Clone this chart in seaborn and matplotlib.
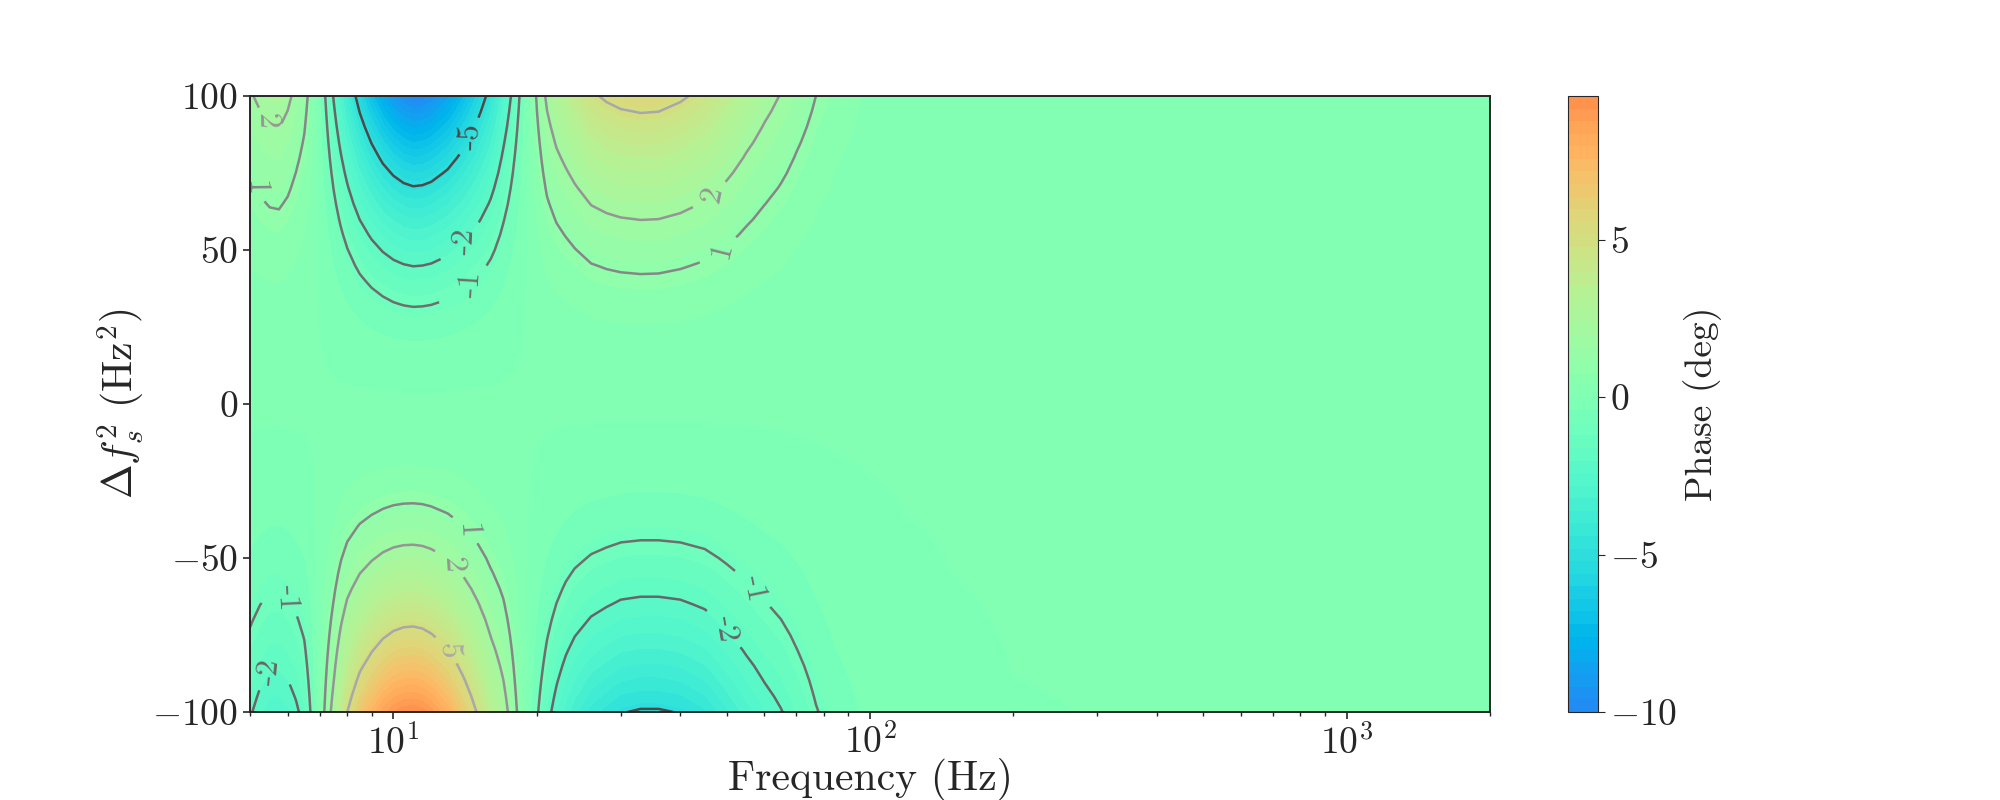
import numpy as np
import matplotlib
matplotlib.use("Agg")
import matplotlib.pyplot as plt
import seaborn as sns

# ---- data ----
# frequencies (Hz) at which the phase profile was read
freq_hz = [5.0, 5.25, 5.5, 5.75, 6.0, 6.25, 6.5, 6.75, 7.0, 7.25, 7.5, 7.75, 8.0,
           8.5, 9.0, 9.5, 10.0, 10.5, 11.0, 11.5, 12.0, 13.0, 14.0, 15.0, 16.0,
           17.0, 18.0, 19.0, 20.0, 21.0, 22.0, 23.0, 24.0, 26.0, 28.0, 30.0, 33.0,
           36.0, 40.0, 45.0, 50.0, 55.0, 60.0, 65.0, 70.0, 77.0, 85.0, 100.0,
           120.0, 150.0, 200.0, 500.0, 2000.0]
# phase (deg) along the top edge, delta f_s^2 = +100 Hz^2
phase_top = [1.9, 2.2, 2.45, 2.5, 2.2, 1.75, 1.3, 0.6, -0.35, -1.2, -2.1, -3.0, -3.9,
             -5.6, -7.0, -8.2, -9.1, -9.7, -10.0, -9.9, -9.6, -8.6, -7.3, -5.9, -4.5,
             -2.9, -1.5, -0.2, 1.1, 2.2, 2.9, 3.4, 3.9, 4.8, 5.2, 5.45, 5.6,
             5.55, 5.2, 4.6, 3.8, 3.0, 2.4, 1.95, 1.5, 1.0, 0.65, 0.3,
             0.12, 0.05, 0.02, 0.0, 0.0]
# phase (deg) along the bottom edge, delta f_s^2 = -100 Hz^2
phase_bottom = [-1.9, -2.35, -2.65, -2.7, -2.5, -2.15, -1.7, -0.8, 0.3, 1.4, 2.5, 3.8, 5.0,
                6.6, 7.7, 8.6, 9.2, 9.5, 9.57, 9.4, 9.0, 7.9, 6.4, 4.9, 3.5,
                2.5, 1.2, 0.0, -0.9, -1.7, -2.4, -3.0, -3.5, -4.2, -4.6, -4.95, -5.1,
                -5.1, -4.95, -4.5, -3.7, -3.0, -2.45, -2.05, -1.6, -1.05, -0.65, -0.3,
                -0.12, -0.05, -0.02, 0.0, 0.0]
# |delta f_s^2| (Hz^2) and the fraction of the edge phase reached there
abs_delta = [0, 5, 10, 15, 20, 25, 30, 35, 40, 45, 50, 55, 60, 65, 70, 75, 80, 85, 90, 95, 100]
edge_fraction = [0.0, 0.0025, 0.01, 0.0225, 0.04, 0.0625, 0.09, 0.1225, 0.16, 0.2025, 0.25,
                 0.3025, 0.36, 0.4225, 0.49, 0.5625, 0.64, 0.7225, 0.81, 0.9025, 1.0]
contour_levels = [-5, -2, -1, 1, 2, 5]
y_ticks = [-100, -50, 0, 50, 100]
cbar_ticks = [-10, -5, 0, 5]
cbar_label = "Phase (deg)"
x_label = "Frequency (Hz)"
y_label = r"$\Delta f_s^2$ (Hz$^2$)"

# ---- build the table ----
f = np.array(freq_hz)
top = np.array(phase_top)
bot = np.array(phase_bottom)
ad = np.array(abs_delta, dtype=float)
fr = np.array(edge_fraction)
delta = np.concatenate([-ad[::-1], ad[1:]])
frac = np.concatenate([fr[::-1], fr[1:]])
Z = np.where(delta[:, None] >= 0, top[None, :], bot[None, :]) * frac[:, None]
F, D = np.meshgrid(f, delta)

# ---- style ----
sns.set_style("ticks")
plt.rcParams["font.family"] = "serif"
plt.rcParams["font.serif"] = ["cmr10", "DejaVu Serif"]
plt.rcParams["mathtext.fontset"] = "cm"
plt.rcParams["axes.formatter.use_mathtext"] = True
plt.rcParams["axes.unicode_minus"] = True

fig, ax = plt.subplots(figsize=(20, 8), dpi=100)
fill_levels = np.linspace(Z.min(), Z.max(), 50)
cs = ax.contourf(F, D, Z, levels=fill_levels, cmap="rainbow", vmin=-15.5, vmax=15.5)
line_colors = ["#4a4a4a", "#666666", "#6e6e6e", "#868686", "#959595", "#a8a8a8"]
cl = ax.contour(F, D, Z, levels=contour_levels, colors=line_colors, linewidths=1.8)
# approximate label spots as placed in the reference (label placement only)
label_spots = [(5.4, 92), (5.2, 70), (14.5, 87), (13.5, 53), (14.2, 39),
               (46.7, 68), (48.9, 50),
               (14.3, -41), (13.5, -52), (12.7, -80), (57.7, -60), (51.8, -73),
               (6.0, -63), (5.4, -87)]
ax.clabel(cl, fmt="%d", fontsize=23, inline=True, manual=label_spots)

ax.set_xscale("log")
ax.set_xlim(5, 2000)
ax.set_ylim(-100, 100)
ax.set_yticks(y_ticks)
ax.set_xlabel(x_label, fontsize=30, labelpad=-2)
ax.set_ylabel(y_label, fontsize=30)
ax.tick_params(axis="both", which="major", labelsize=27, length=5, width=1.2)
ax.tick_params(axis="x", which="minor", length=3, width=1)
for s in ax.spines.values():
    s.set_color("#262626")
    s.set_linewidth(1.4)

cb = fig.colorbar(cs, ax=ax)
cb.set_label(cbar_label, fontsize=27)
cb.ax.tick_params(labelsize=27, length=5)
cb.set_ticks(cbar_ticks)

fig.savefig("out.png", dpi=100)
